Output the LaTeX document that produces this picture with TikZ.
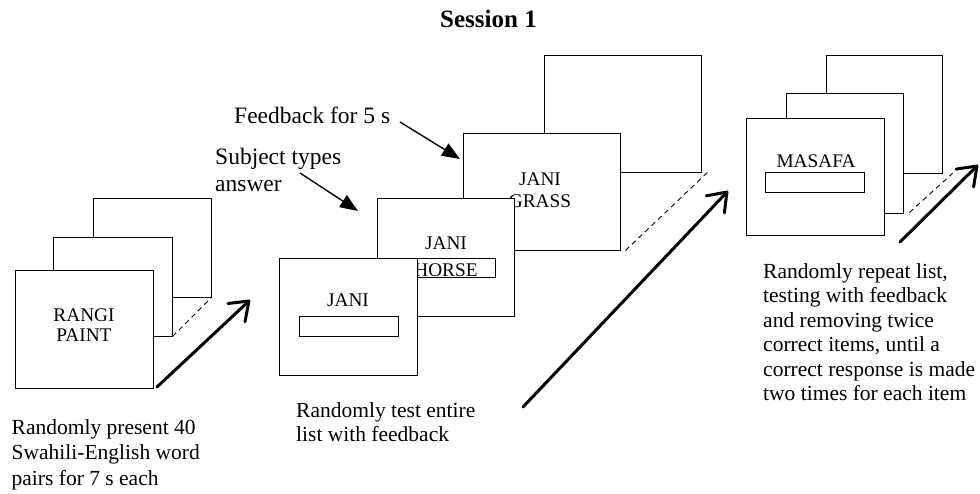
\documentclass[tikz,border=0pt]{standalone}
\usepackage{fontspec}
\setmainfont{Liberation Serif}
\usetikzlibrary{arrows.meta}
\begin{document}
\begin{tikzpicture}[x=1pt,y=-1pt,
  card/.style={draw=black, fill=white, line width=0.9pt, inner sep=0pt},
  field/.style={draw=black, fill=white, line width=0.9pt, inner sep=0pt, minimum width=99pt},
  word/.style={anchor=base, inner sep=0pt, font=\fontsize{19.3}{20}\selectfont},
  capt/.style={anchor=north west, inner sep=0pt, align=left, font=\fontsize{21.5}{24.5}\selectfont},
  note/.style={inner sep=0pt, align=left, font=\fontsize{23.5}{26.7}\selectfont},
  flow/.style={line width=3pt, line cap=round, -{Straight Barb[length=17pt,width=25pt,line join=round,line cap=round]}},
  pointer/.style={line width=1.4pt, -{Triangle[length=18pt,width=14pt]}},
  fold/.style={dash pattern=on 5pt off 4pt, line width=0.9pt}
]
\useasboundingbox (0,0) rectangle (980,494);

% title
\node[anchor=base, inner sep=0pt, font=\bfseries\fontsize{25}{30}\selectfont] (title) at (488.5,27.3) {Session 1};

% ---------- group 1 ----------
\node[card, minimum width=118pt, minimum height=99pt] (g1c) at (152,247.5) {};
\node[card, minimum width=119pt, minimum height=99pt] (g1b) at (112.5,286.5) {};
\node[card, minimum width=138pt, minimum height=118pt] (g1a) at (84,329) {};
\node[word] (w1a) at (84,321.7) {RANGI};
\node[word] (w1b) at (84,341.7) {PAINT};
\draw[fold] (g1b.south east) -- (g1c.south east);
\coordinate (f1s) at (157,387);
\coordinate (f1e) at (250,300);
\draw[flow] (f1s) -- (f1e);
\node[capt, font=\fontsize{21.5}{25.2}\selectfont] (c1) at (11.5,419.5) {Randomly present 40\\Swahili-English word\\pairs for 7 s each};

% ---------- group 2 ----------
\node[card, minimum width=157pt, minimum height=117pt] (g2d) at (622.5,113.5) {};
\node[card, minimum width=157pt, minimum height=117pt] (g2c) at (541.5,191.5) {};
\node[word] (w2c1) at (540,185.7) {JANI};
\node[word] (w2c2) at (540,208) {GRASS};
\node[card, minimum width=137pt, minimum height=118pt] (g2b) at (445.5,257) {};
\node[word] (w2b1) at (446,250) {JANI};
\node[field, minimum height=19pt] (r2b) at (445.5,267.5) {};
\node[word] (w2b2) at (446,276.3) {HORSE};
\node[card, minimum width=138pt, minimum height=117pt] (g2a) at (348,316.5) {};
\node[word] (w2a) at (348,306.7) {JANI};
\node[field, minimum height=20pt] (r2a) at (348.5,326) {};
\draw[fold] ([xshift=5pt]g2c.south east) -- ([xshift=6pt]g2d.south east);
\coordinate (f2s) at (523,407);
\coordinate (f2e) at (728,191);
\draw[flow] (f2s) -- (f2e);
\node[capt] (c2) at (296,402) {Randomly test entire\\list with feedback};

% labels with pointers
\node[note, anchor=base west] (fb) at (234,124) {Feedback for 5 s};
\node[note, anchor=north west] (st) at (215,147.8) {Subject types\\answer};
\coordinate (p1s) at (400,122);
\coordinate (p1e) at (460,159);
\coordinate (p2s) at (300,173);
\coordinate (p2e) at (358,211);
\draw[pointer] (p1s) -- (p1e);
\draw[pointer] (p2s) -- (p2e);

% ---------- group 3 ----------
\node[card, minimum width=116pt, minimum height=118pt] (g3c) at (884,114) {};
\node[card, minimum width=117pt, minimum height=120pt] (g3b) at (844.5,153) {};
\node[card, minimum width=138pt, minimum height=117pt] (g3a) at (815,176.5) {};
\node[word] (w3a) at (816,167.7) {MASAFA};
\node[field, minimum height=20pt] (r3a) at (814.5,182) {};
\draw[fold] ([xshift=6pt,yshift=1pt]g3b.south east) -- ([xshift=10pt]g3c.south east);
\coordinate (f3s) at (900,242);
\coordinate (f3e) at (978,165);
\draw[flow] (f3s) -- (f3e);
\node[capt] (c3) at (763,263) {Randomly repeat list,\\testing with feedback\\and removing twice\\correct items, until a\\correct response is made\\two times for each item};
\end{tikzpicture}
\end{document}
